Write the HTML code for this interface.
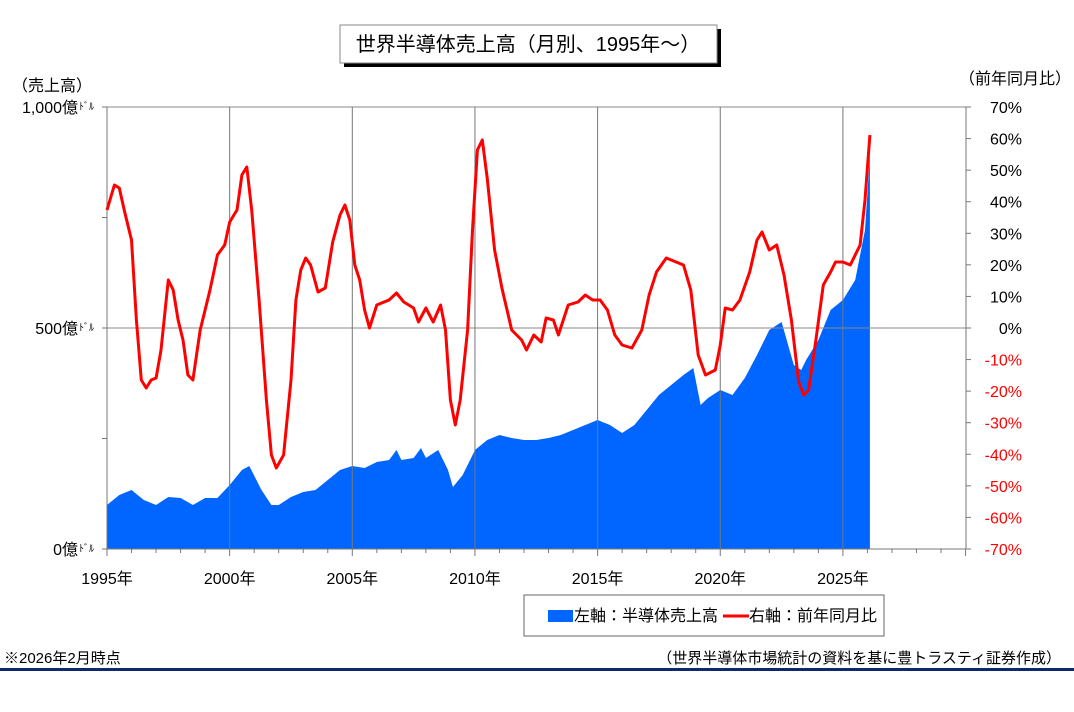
<!DOCTYPE html>
<html><head><meta charset="utf-8"><style>
body{margin:0;background:#fff;width:1074px;height:707px;overflow:hidden;font-family:"Liberation Sans","Noto Sans CJK JP",sans-serif}
</style></head><body>
<svg id="s" width="1074" height="707" xmlns="http://www.w3.org/2000/svg" font-family="Liberation Sans, Noto Sans CJK JP, sans-serif">
<rect x="344" y="29" width="377" height="38" fill="#000"/>
<rect x="340" y="25" width="377" height="38" fill="#fff" stroke="#888" stroke-width="1"/>
<text x="528" y="51" font-size="20" text-anchor="middle">世界半導体売上高（月別、1995年～）</text>
<text x="12" y="91" font-size="16">（売上高）</text>
<text x="1015" y="84" font-size="16" text-anchor="middle">（前年同月比）</text>
<g id="plot"></g>
<rect x="524" y="595" width="360" height="41" fill="#fff" stroke="#666"/>
<rect x="548" y="610" width="25" height="12" fill="#0066ff"/>
<text x="574" y="621" font-size="16">左軸：半導体売上高</text>
<line x1="723" y1="616" x2="749" y2="616" stroke="#f00" stroke-width="3"/>
<text x="749" y="621" font-size="16">右軸：前年同月比</text>
<text x="4" y="663" font-size="15">※2026年2月時点</text>
<text x="1061" y="663" font-size="15" text-anchor="end">（世界半導体市場統計の資料を基に豊トラスティ証券作成）</text>
<rect x="0" y="668" width="1074" height="3" fill="#0a2a6b"/>
</svg>
<script>
var X=function(t){return 107+(t-1995)*24.53};
var rev=[[1995,505],[1995.5,495],[1996,490],[1996.5,500],[1997,505],[1997.5,497],[1998,498],[1998.5,505],[1999,498],[1999.5,498],[2000,485],[2000.5,470],[2000.8,466],[2001.3,490],[2001.7,505],[2002,505],[2002.5,497],[2003,492],[2003.5,490],[2004,480],[2004.5,470],[2005,466],[2005.5,468],[2006,462],[2006.5,460],[2006.8,450],[2007,460],[2007.5,458],[2007.8,448],[2008,458],[2008.5,450],[2008.9,470],[2009.1,487],[2009.5,475],[2010,450],[2010.5,440],[2011,435],[2011.5,438],[2012,440],[2012.5,440],[2013,438],[2013.5,435],[2014,430],[2014.5,425],[2015,420],[2015.5,425],[2016,433],[2016.5,425],[2017,410],[2017.5,395],[2018,385],[2018.5,375],[2018.9,368],[2019.2,405],[2019.5,398],[2020,390],[2020.5,395],[2021,378],[2021.5,355],[2022,330],[2022.5,322],[2023,365],[2023.3,370],[2023.5,360],[2024,340],[2024.5,310],[2025,300],[2025.5,280],[2025.9,230],[2026.1,155]];
var yoy=[[1995,210],[1995.3,185],[1995.5,188],[1995.7,210],[1996,240],[1996.2,320],[1996.4,380],[1996.6,388],[1996.8,380],[1997,378],[1997.2,350],[1997.5,280],[1997.7,290],[1997.9,320],[1998.1,340],[1998.3,375],[1998.5,380],[1998.8,330],[1999.2,290],[1999.5,255],[1999.8,245],[2000,222],[2000.3,210],[2000.5,175],[2000.7,167],[2000.9,210],[2001.2,300],[2001.5,400],[2001.7,455],[2001.9,468],[2002.2,455],[2002.5,380],[2002.7,300],[2002.9,270],[2003.1,258],[2003.3,265],[2003.6,292],[2003.9,288],[2004.2,242],[2004.5,215],[2004.7,205],[2004.9,220],[2005.1,265],[2005.3,280],[2005.5,310],[2005.7,328],[2006,305],[2006.5,300],[2006.8,293],[2007.1,302],[2007.5,308],[2007.7,322],[2008,308],[2008.3,322],[2008.6,305],[2008.8,330],[2009,400],[2009.2,425],[2009.4,400],[2009.7,330],[2009.9,230],[2010.1,150],[2010.3,140],[2010.5,178],[2010.8,250],[2011.1,288],[2011.5,330],[2011.9,340],[2012.1,350],[2012.4,335],[2012.7,342],[2012.9,318],[2013.2,320],[2013.4,335],[2013.8,305],[2014.2,302],[2014.5,295],[2014.8,300],[2015.1,300],[2015.4,310],[2015.7,335],[2016,345],[2016.4,348],[2016.8,330],[2017.1,295],[2017.4,272],[2017.8,258],[2018.2,262],[2018.5,265],[2018.8,290],[2019.1,355],[2019.4,375],[2019.8,370],[2020,345],[2020.2,308],[2020.5,310],[2020.8,300],[2021.2,272],[2021.5,240],[2021.7,232],[2022,250],[2022.3,245],[2022.6,275],[2022.9,320],[2023.2,382],[2023.4,395],[2023.6,390],[2023.9,340],[2024.2,285],[2024.5,272],[2024.7,262],[2025,262],[2025.3,265],[2025.7,245],[2025.9,200],[2026.1,135]];
var h='';
var a='M107,549 ';rev.forEach(function(p){a+='L'+X(p[0]).toFixed(1)+','+p[1]+' '});a+='L'+X(2026.1).toFixed(1)+',549Z';
h+='<path d="'+a+'" fill="#0066ff"/>';
h+='<line x1="107" y1="328" x2="966" y2="328" stroke="#888"/>';
h+='<line x1="107" y1="107" x2="966" y2="107" stroke="#888"/>';
for(var y=2000;y<=2025;y+=5)h+='<line x1="'+X(y)+'" y1="107" x2="'+X(y)+'" y2="549" stroke="#777"/>';
h+='<line x1="107" y1="107" x2="107" y2="549" stroke="#777"/><line x1="966" y1="107" x2="966" y2="549" stroke="#777"/><line x1="102" y1="549" x2="966" y2="549" stroke="#777"/>';
for(var y=1995;y<=2030;y++)h+='<line x1="'+X(y)+'" y1="549" x2="'+X(y)+'" y2="'+(y%5?553:556)+'" stroke="#777"/>';
for(var i=0;i<=4;i++){var yy=107+i*110.5;h+='<line x1="102" y1="'+yy+'" x2="107" y2="'+yy+'" stroke="#777"/>'}
for(var i=0;i<=14;i++){var yy=107+i*31.57;h+='<line x1="966" y1="'+yy+'" x2="971" y2="'+yy+'" stroke="#777"/>';
var v=70-i*10;h+='<text x="1022" y="'+(yy+6)+'" font-size="16" text-anchor="end" fill="'+(v<0?'#f00':'#000')+'">'+v+'%</text>'}
var L=[['1,000',107],['500',328],['0',549]];
L.forEach(function(l){h+='<text x="78" y="'+(l[1]+6)+'" font-size="16" text-anchor="end">'+l[0]+'億</text><text x="79" y="'+(l[1]+3)+'" font-size="10">ﾄﾞﾙ</text>'});
for(var y=1995;y<=2025;y+=5)h+='<text x="'+X(y)+'" y="584" font-size="16" text-anchor="middle">'+y+'年</text>';
var p='';yoy.forEach(function(q,i){p+=(i?'L':'M')+X(q[0]).toFixed(1)+','+q[1]+' '});
h+='<path d="'+p+'" fill="none" stroke="#f00" stroke-width="3" stroke-linejoin="round"/>';
document.getElementById('plot').innerHTML=h;
</script>
</body></html>
